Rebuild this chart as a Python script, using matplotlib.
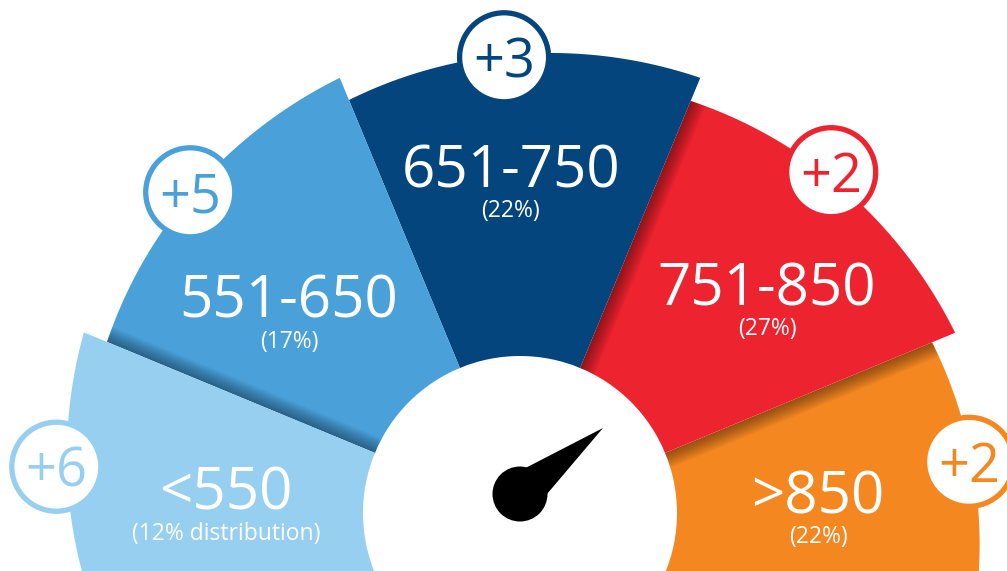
import numpy as np
import matplotlib
matplotlib.use("Agg")
import matplotlib.pyplot as plt
from matplotlib.patches import Polygon, Circle

# ---------------- data ----------------
categories = ["<550", "551-650", "651-750", "751-850", ">850"]
shares = ["(12% distribution)", "(17%)", "(22%)", "(27%)", "(22%)"]
changes = ["+6", "+5", "+3", "+2", "+2"]

# ---------------- style / layout ----------------
colors = ["#97CFF0", "#4AA1DA", "#03457C", "#EE2330", "#F58721"]
W, H = 1007, 571
cx, cy = 520, 513                  # gauge centre (pixels, y down)
start_angle, span = 202.5, 45.0    # each segment spans 45 degrees, clockwise
r_ccw = [427, 447, 447, 446, 446]  # outer radius at ccw end of each segment
r_cw = [472, 471, 471, 471, 471]   # outer radius at cw end
inner_r = 157
label_xy = [(226, 510), (289, 318), (511, 187), (767, 305), (818, 513)]  # baseline pos
sub_dy = 30
badge_ang = [174.3, 135.8, 92.0, 47.6, 6.5]
badge_rad = [466, 460, 456, 461.5, 452]
badge_r = 47
shadow_alpha = [0, 0.03, 0.0, 0.03, 0.03]   # shadow cast onto segment i
pivot = (520, 494)
needle_angle, needle_len, needle_half = 38.5, 106, 21

plt.rcParams['font.family'] = ['Open Sans', 'DejaVu Sans']

fig = plt.figure(figsize=(W / 100, H / 100), dpi=100)
ax = fig.add_axes([0, 0, 1, 1])
ax.set_xlim(0, W)
ax.set_ylim(H, 0)
ax.axis("off")


def pt(ang, r, c=(cx, cy)):
    a = np.deg2rad(ang)
    return c[0] + r * np.cos(a), c[1] - r * np.sin(a)


def wedge_poly(i):
    a0 = start_angle - i * span
    a1 = a0 - span
    angs = np.linspace(a0, a1, 120)
    rs = np.linspace(r_ccw[i], r_cw[i], 120)
    pts = [(cx, cy)] + [pt(a, r) for a, r in zip(angs, rs)]
    return pts


n = len(categories)
z = 1
for i in range(n - 1, -1, -1):
    patch = Polygon(wedge_poly(i), closed=True, facecolor=colors[i],
                    edgecolor="none", zorder=z)
    ax.add_patch(patch)
    # shadow cast by the segment lying on top (i-1) onto this one
    if i > 0 and shadow_alpha[i] > 0:
        b = start_angle - i * span
        u = np.array([np.cos(np.deg2rad(b)), -np.sin(np.deg2rad(b))])
        nrm = np.array([np.sin(np.deg2rad(b)), np.cos(np.deg2rad(b))])
        c0 = np.array([cx, cy])
        N, Wd = 14, 16
        for k in range(N):
            w = Wd * (k + 1) / N
            poly = [c0 + 100 * u, c0 + 600 * u, c0 + 600 * u + w * nrm, c0 + 100 * u + w * nrm]
            sp = Polygon(poly, closed=True, facecolor="black", edgecolor="none",
                         alpha=shadow_alpha[i], zorder=z + 0.5)
            ax.add_patch(sp)
            sp.set_clip_path(patch)
    z += 1

# centre white disc
ax.add_patch(Circle((cx, cy), inner_r, facecolor="white", edgecolor="none", zorder=20))

# labels
for i in range(n):
    x, y = label_xy[i]
    ax.text(x, y, categories[i], color="white", fontsize=42, ha="center",
            va="baseline", zorder=25)
    ax.text(x, y + sub_dy, shares[i], color="white", fontsize=16.5, ha="center",
            va="baseline", zorder=25)

# badges
for i in range(n):
    bx, by = pt(badge_ang[i], badge_rad[i])
    ax.add_patch(Circle((bx, by), badge_r - 2.5, facecolor="white", edgecolor=colors[i],
                        linewidth=3.8, zorder=30))
    ax.text(bx, by + 20, changes[i], color=colors[i], fontsize=39, ha="center",
            va="baseline", zorder=31)

# needle
a = np.deg2rad(needle_angle)
d = np.array([np.cos(a), -np.sin(a)])
p = np.array([-d[1], d[0]])
pv = np.array(pivot)
ax.add_patch(Polygon([pv + needle_half * p, pv + needle_len * d, pv - needle_half * p],
                     closed=True, facecolor="black", edgecolor="none", zorder=40))
ax.add_patch(Circle(pivot, 27.5, facecolor="black", edgecolor="none", zorder=41))

fig.savefig("out.png", dpi=100)
